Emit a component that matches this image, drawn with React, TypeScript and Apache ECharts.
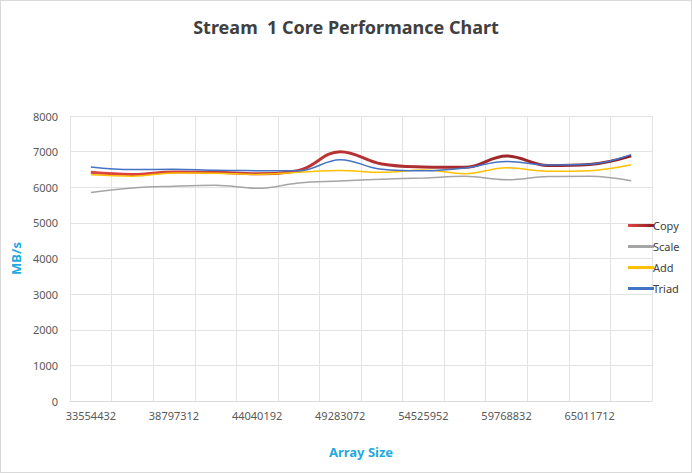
import React, { useEffect, useRef } from "react";
import * as echarts from "echarts";

const categories = [
  "33554432", "36175872", "38797312", "41418752", "44040192", "46661632", "49283072",
  "51904512", "54525952", "57147392", "59768832", "62390272", "65011712", "67633152",
];
const copyValues = [6420, 6360, 6430, 6420, 6380, 6470, 7000, 6650, 6570, 6560, 6880, 6610, 6640, 6880];
const scaleValues = [5850, 5980, 6030, 6055, 5970, 6120, 6175, 6224, 6262, 6307, 6210, 6300, 6307, 6180];
const addValues = [6350, 6310, 6400, 6395, 6360, 6420, 6470, 6420, 6484, 6380, 6545, 6450, 6466, 6630];
const triadValues = [6570, 6495, 6505, 6475, 6465, 6460, 6775, 6503, 6460, 6540, 6726, 6624, 6645, 6915];

const FONT = "'Noto Sans', 'Open Sans', sans-serif";

export default function App() {
  const ref = useRef<HTMLDivElement>(null);
  useEffect(() => {
    document.body.style.margin = "0";
    if (!ref.current) return;
    const chart = echarts.init(ref.current, undefined, { renderer: "svg" });
    const copyGrad = new echarts.graphic.LinearGradient(0, 0, 1, 0, [
      { offset: 0, color: "#E04545" },
      { offset: 1, color: "#8B1E22" },
    ]);
    const mk = (name: string, data: number[], color: any, width: number) => ({
      name,
      type: "line",
      data,
      smooth: 0.4,
      symbol: "none",
      lineStyle: { color, width },
      itemStyle: { color },
    });
    chart.setOption({
      animation: false,
      backgroundColor: "#ffffff",
      textStyle: { fontFamily: FONT },
      title: {
        text: "Stream  1 Core Performance Chart",
        left: "center",
        top: 12,
        textStyle: { fontFamily: FONT, fontSize: 18, fontWeight: "bold", color: "#404040" },
      },
      legend: {
        orient: "vertical",
        left: 622,
        top: 214,
        itemWidth: 26,
        itemHeight: 3,
        itemGap: 10,
        icon: "rect",
        textStyle: { fontFamily: FONT, fontSize: 11, color: "#404040", padding: [0, 0, 0, -6] },
        data: ["Copy", "Scale", "Add", "Triad"],
      },
      grid: { left: 61, right: 39, top: 115, bottom: 71 },
      xAxis: {
        type: "category",
        data: categories,
        boundaryGap: true,
        name: "Array Size",
        nameLocation: "middle",
        nameGap: 44,
        nameTextStyle: { fontFamily: FONT, fontSize: 13, fontWeight: "bold", color: "#1FA9E1" },
        axisLine: { lineStyle: { color: "#D9D9D9" } },
        axisTick: { show: false },
        axisLabel: { interval: 1, color: "#595959", fontSize: 11, margin: 9, fontFamily: FONT },
        splitLine: { show: true, interval: 0, lineStyle: { color: "#E3E3E3" } },
      },
      yAxis: {
        type: "value",
        min: 0,
        max: 8000,
        interval: 1000,
        name: "MB/s",
        nameLocation: "middle",
        nameGap: 33,
        nameRotate: 90,
        nameTextStyle: {
          fontFamily: FONT, fontSize: 13, fontWeight: "bold", color: "#1FA9E1",
          backgroundColor: "#ffffff", padding: [0, 2, 0, 2],
        },
        axisLine: { show: false },
        axisTick: { show: false },
        axisLabel: {
          color: "#595959", fontSize: 11, margin: 12, fontFamily: FONT,
          formatter: (v: number) => String(v),
        },
        splitLine: { show: true, lineStyle: { color: "#E3E3E3" } },
      },
      series: [
        mk("Copy", copyValues, copyGrad, 3),
        mk("Scale", scaleValues, "#A5A5A5", 1.5),
        mk("Add", addValues, "#FFC000", 1.5),
        mk("Triad", triadValues, "#4472C4", 1.5),
      ],
    });
    return () => chart.dispose();
  }, []);
  return (
    <div
      ref={ref}
      style={{ width: 692, height: 473, boxSizing: "border-box", border: "1px solid #D9D9D9" }}
    />
  );
}
